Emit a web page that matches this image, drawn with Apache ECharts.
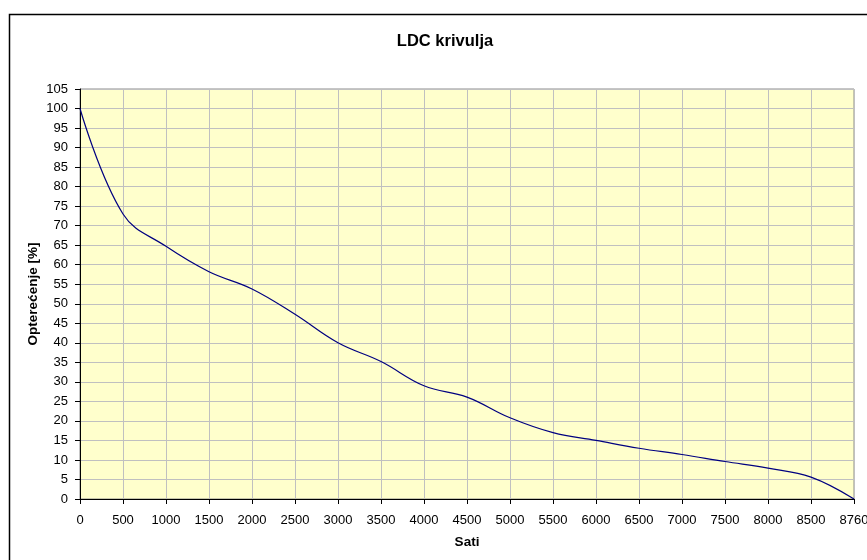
<!DOCTYPE html>
<html>
<head>
<meta charset="utf-8">
<script src="https://cdn.jsdelivr.net/npm/echarts@6/dist/echarts.min.js"></script>
<style>
html,body{margin:0;padding:0;background:#fff;}
#c{width:867px;height:560px;}
</style>
</head>
<body>
<div id="c"></div>
<script>
var hours = ['0','500','1000','1500','2000','2500','3000','3500','4000','4500','5000','5500','6000','6500','7000','7500','8000','8500','8760'];
var load = [100, 73, 64.7, 58.2, 53.8, 47.3, 40, 35.2, 29, 26.1, 20.8, 17, 15, 13, 11.4, 9.6, 7.9, 5.6, 0];
var yTicks = {min: 0, max: 105, interval: 5};

var FONT = 'Liberation Sans, Arial, sans-serif';
var chart = echarts.init(document.getElementById('c'), null, {renderer: 'canvas'});
chart.setOption({
  backgroundColor: '#ffffff',
  animation: false,
  textStyle: {fontFamily: FONT},
  graphic: [{
    type: 'rect',
    shape: {x: 9.5, y: 14.5, width: 1000, height: 1000},
    style: {fill: 'none', stroke: '#000', lineWidth: 1.5},
    z: -1
  }],
  title: {
    text: 'LDC krivulja',
    left: 440,
    top: 28,
    textAlign: 'center',
    textStyle: {fontSize: 16.5, fontWeight: 'bold', color: '#000', fontFamily: FONT}
  },
  grid: {
    left: 80, right: 13, top: 89, bottom: 61,
    outerBoundsMode: 'none',
    containLabel: false,
    show: true,
    backgroundColor: '#FFFFCC',
    borderColor: '#8c8c8c',
    borderWidth: 1
  },
  xAxis: {
    type: 'category',
    data: hours,
    boundaryGap: false,
    name: 'Sati',
    nameLocation: 'middle',
    nameGap: 36,
    nameMoveOverlap: false,
    nameTextStyle: {fontSize: 13.5, fontWeight: 'bold', color: '#000', fontFamily: FONT},
    axisLine: {lineStyle: {color: '#000', width: 1}},
    axisTick: {show: true, length: 5, lineStyle: {color: '#000'}},
    axisLabel: {color: '#000', fontSize: 13, margin: 15, interval: 0, fontFamily: FONT, hideOverlap: false},
    splitLine: {show: true, lineStyle: {color: '#c0c0c0', width: 1}}
  },
  yAxis: {
    type: 'value',
    min: yTicks.min, max: yTicks.max, interval: yTicks.interval,
    name: 'Opterećenje [%]',
    nameLocation: 'middle',
    nameGap: 40,
    nameMoveOverlap: false,
    nameTextStyle: {fontSize: 13.5, fontWeight: 'bold', color: '#000', fontFamily: FONT},
    axisLine: {show: true, lineStyle: {color: '#000', width: 1}},
    axisTick: {show: true, length: 5, lineStyle: {color: '#000'}},
    axisLabel: {color: '#000', fontSize: 13, margin: 12, fontFamily: FONT},
    splitLine: {show: true, lineStyle: {color: '#c0c0c0', width: 1}}
  },
  series: [{
    type: 'line',
    data: load,
    smooth: 0.4,
    symbol: 'none',
    lineStyle: {color: '#000080', width: 1.2}
  }]
});
</script>
</body>
</html>
